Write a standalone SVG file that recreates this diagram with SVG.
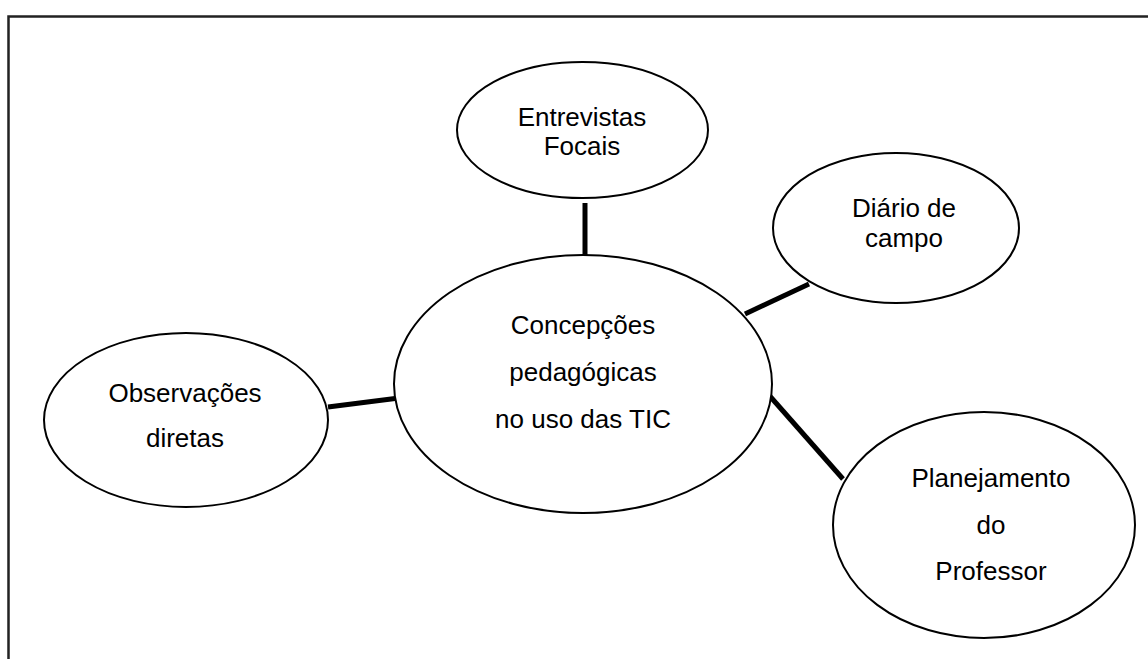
<svg xmlns="http://www.w3.org/2000/svg" width="1148" height="659" viewBox="0 0 1148 659">
<style>
.node ellipse{fill:#fff;stroke:#000;stroke-width:2}
.node text{font-family:"Liberation Sans",Arial,sans-serif;font-size:26px;fill:#000;text-anchor:middle}
.conn line{stroke:#000;stroke-width:5}
.frame{fill:none;stroke:#222;stroke-width:2.5}
</style>
<rect width="1148" height="659" fill="#fff"/>
<path class="frame" d="M8.5,660 V16.5 H1149"/>
<g class="conn">
<line x1="585" y1="203" x2="585" y2="255"/>
<line x1="745" y1="314" x2="809" y2="284"/>
<line x1="768" y1="394" x2="843" y2="479"/>
<line x1="328" y1="407" x2="399" y2="398"/>
</g>
<g id="n-entrevistas" class="node">
<ellipse cx="582.5" cy="130" rx="125.5" ry="68"/>
<text x="582" y="126">Entrevistas</text>
<text x="582" y="155">Focais</text>
</g>
<g id="n-diario" class="node">
<ellipse cx="896" cy="228" rx="123" ry="75"/>
<text x="904" y="217">Diário de</text>
<text x="904" y="247">campo</text>
</g>
<g id="n-central" class="node">
<ellipse cx="583" cy="384" rx="189" ry="129"/>
<text x="583" y="334">Concepções</text>
<text x="583" y="381">pedagógicas</text>
<text x="583" y="428">no uso das TIC</text>
</g>
<g id="n-observacoes" class="node">
<ellipse cx="186" cy="420" rx="142" ry="87"/>
<text x="185" y="402">Observações</text>
<text x="185" y="447">diretas</text>
</g>
<g id="n-planejamento" class="node">
<ellipse cx="984" cy="525" rx="151" ry="113"/>
<text x="991" y="487">Planejamento</text>
<text x="991" y="534">do</text>
<text x="991" y="580">Professor</text>
</g>
</svg>
